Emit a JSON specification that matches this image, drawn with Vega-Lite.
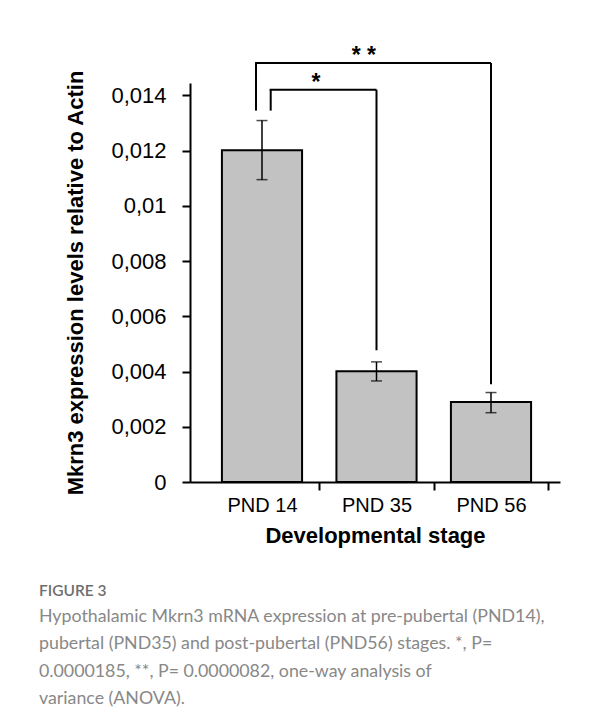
{
  "$schema": "https://vega.github.io/schema/vega-lite/v6.json",
  "width": 370,
  "height": 399,
  "autosize": "none",
  "padding": {"left": 190, "top": 83, "right": 56, "bottom": 226},
  "background": "white",
  "config": {"view": {"stroke": null}, "font": "Liberation Sans"},
  "datasets": {
    "bars": [
      {"stage": "PND 14", "mean": 0.01201, "lo": 0.01095, "hi": 0.01309},
      {"stage": "PND 35", "mean": 0.00401, "lo": 0.00366, "hi": 0.00435},
      {"stage": "PND 56", "mean": 0.0029, "lo": 0.00251, "hi": 0.00324}
    ],
    "brackets": [
      {"sig": "*", "from": "PND 14", "to": "PND 35", "left": 0.01345, "right": 0.00477, "top": 0.01421},
      {"sig": "* *", "from": "PND 14", "to": "PND 56", "left": 0.01345, "right": 0.00354, "top": 0.01517}
    ]
  },
  "title": {
    "text": "FIGURE 3",
    "subtitle": [
      "Hypothalamic Mkrn3 mRNA expression at pre-pubertal (PND14),",
      "pubertal (PND35) and post-pubertal (PND56) stages. *, P=",
      "0.0000185, **, P= 0.0000082, one-way analysis of",
      "variance (ANOVA)."
    ],
    "orient": "bottom",
    "anchor": "start",
    "frame": "group",
    "dx": -151,
    "offset": 38,
    "font": "Lato",
    "fontSize": 15.5,
    "fontWeight": 600,
    "color": "#6e6e6e",
    "subtitleFont": "Lato",
    "subtitleFontSize": 17.8,
    "subtitleColor": "#888888",
    "subtitleLineHeight": 27.5,
    "subtitlePadding": 8
  },
  "layer": [
    {
      "data": {"name": "bars"},
      "mark": {"type": "bar", "fill": "#c2c2c2", "stroke": "black", "strokeWidth": 2, "width": {"band": 0.7}},
      "encoding": {
        "x": {
          "field": "stage",
          "type": "nominal",
          "sort": null,
          "scale": {"domain": ["PND 14", "PND 35", "PND 56"], "paddingInner": 0, "paddingOuter": 0.1157, "align": 0.5566},
          "axis": {
            "title": "Developmental stage",
            "titleFontSize": 22,
            "titleFontWeight": "bold",
            "titleColor": "black",
            "titlePadding": 10,
            "labelFontSize": 20,
            "labelColor": "black",
            "labelAngle": 0,
            "labelPadding": 5,
            "tickBand": "extent",
            "tickSize": 8,
            "tickWidth": 2,
            "tickColor": {"condition": {"test": "datum.index < 0", "value": "transparent"}, "value": "black"},
            "domainColor": "black",
            "domainWidth": 2
          }
        },
        "y": {
          "field": "mean",
          "type": "quantitative",
          "scale": {"domain": [0, 0.01445], "nice": false},
          "axis": {
            "title": "Mkrn3 expression levels relative to Actin",
            "titleFontSize": 22,
            "titleFontWeight": "bold",
            "titleColor": "black",
            "titlePadding": 23,
            "values": [0, 0.002, 0.004, 0.006, 0.008, 0.01, 0.012, 0.014],
            "labelExpr": "replace(datum.value + '', '.', ',')",
            "labelFontSize": 22,
            "labelColor": "black",
            "labelPadding": 16,
            "tickSize": 8,
            "tickWidth": 2,
            "tickColor": "black",
            "domainColor": "black",
            "domainWidth": 2,
            "grid": false
          }
        }
      }
    },
    {
      "data": {"name": "bars"},
      "mark": {"type": "rule", "color": "black", "strokeWidth": 1.5},
      "encoding": {
        "x": {"field": "stage", "type": "nominal"},
        "y": {"field": "lo", "type": "quantitative"},
        "y2": {"field": "hi"}
      }
    },
    {
      "data": {"name": "bars"},
      "mark": {"type": "tick", "color": "black", "thickness": 1.5, "size": 11},
      "encoding": {
        "x": {"field": "stage", "type": "nominal"},
        "y": {"field": "lo", "type": "quantitative"}
      }
    },
    {
      "data": {"name": "bars"},
      "mark": {"type": "tick", "color": "black", "thickness": 1.5, "size": 11},
      "encoding": {
        "x": {"field": "stage", "type": "nominal"},
        "y": {"field": "hi", "type": "quantitative"}
      }
    },
    {
      "data": {"name": "brackets"},
      "transform": [{"filter": "datum.sig === '*'"}],
      "mark": {"type": "rule", "color": "black", "strokeWidth": 2},
      "encoding": {
        "x": {"field": "from", "type": "nominal", "bandPosition": 0.576},
        "y": {"field": "left", "type": "quantitative"},
        "y2": {"field": "top"}
      }
    },
    {
      "data": {"name": "brackets"},
      "transform": [{"filter": "datum.sig === '* *'"}],
      "mark": {"type": "rule", "color": "black", "strokeWidth": 2},
      "encoding": {
        "x": {"field": "from", "type": "nominal", "bandPosition": 0.4476},
        "y": {"field": "left", "type": "quantitative"},
        "y2": {"field": "top"}
      }
    },
    {
      "data": {"name": "brackets"},
      "mark": {"type": "rule", "color": "black", "strokeWidth": 2},
      "encoding": {
        "x": {"field": "to", "type": "nominal"},
        "y": {"field": "right", "type": "quantitative"},
        "y2": {"field": "top"}
      }
    },
    {
      "data": {"name": "brackets"},
      "transform": [{"filter": "datum.sig === '*'"}],
      "mark": {"type": "rule", "color": "black", "strokeWidth": 2},
      "encoding": {
        "x": {"field": "from", "type": "nominal", "bandPosition": 0.567},
        "x2": {"field": "to", "bandPosition": 0.5},
        "y": {"field": "top", "type": "quantitative"}
      }
    },
    {
      "data": {"name": "brackets"},
      "transform": [{"filter": "datum.sig === '* *'"}],
      "mark": {"type": "rule", "color": "black", "strokeWidth": 2},
      "encoding": {
        "x": {"field": "from", "type": "nominal", "bandPosition": 0.4396},
        "x2": {"field": "to", "bandPosition": 0.5},
        "y": {"field": "top", "type": "quantitative"}
      }
    },
    {
      "data": {"name": "brackets"},
      "transform": [{"filter": "datum.sig === '*'"}],
      "mark": {"type": "text", "fontSize": 23, "fontWeight": "bold", "baseline": "alphabetic", "align": "center", "color": "black"},
      "encoding": {
        "x": {"field": "from", "type": "nominal", "bandPosition": 0.972},
        "y": {"field": "top", "type": "quantitative"},
        "text": {"field": "sig"}
      }
    },
    {
      "data": {"name": "brackets"},
      "transform": [{"filter": "datum.sig === '* *'"}],
      "mark": {"type": "text", "fontSize": 23, "fontWeight": "bold", "baseline": "alphabetic", "align": "center", "color": "black"},
      "encoding": {
        "x": {"datum": "PND 35", "type": "nominal", "bandPosition": 0.39},
        "y": {"field": "top", "type": "quantitative"},
        "text": {"field": "sig"}
      }
    }
  ]
}
